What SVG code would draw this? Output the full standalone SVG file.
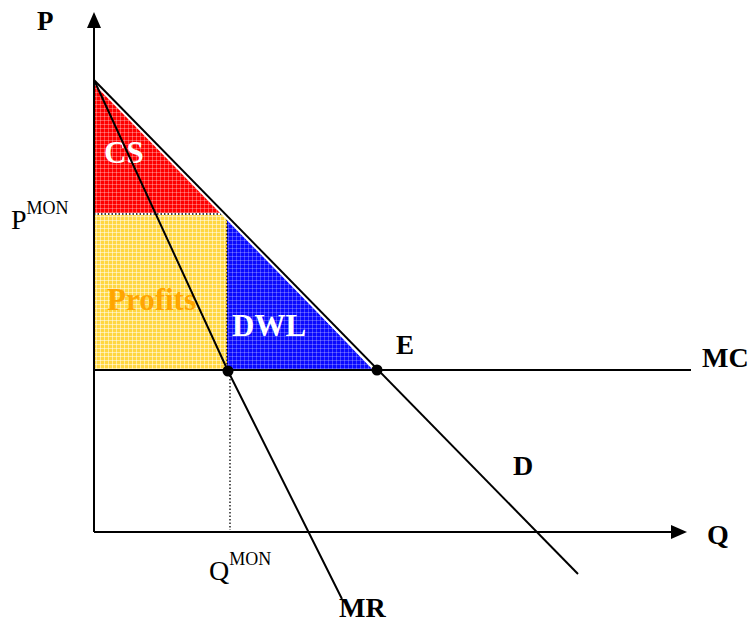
<svg xmlns="http://www.w3.org/2000/svg" width="756" height="624" viewBox="0 0 756 624">
<style>
.ln{stroke:#000;stroke-width:2;fill:none}
.dot{stroke:#000;stroke-width:1.3;stroke-dasharray:1.5 2;fill:none}
.lb{font-family:'Liberation Serif','Tinos','DejaVu Serif',serif;font-weight:bold;fill:#000}
.rg{font-family:'Liberation Serif','Tinos','DejaVu Serif',serif;fill:#000}
.ar{font-family:'Liberation Serif','Tinos','DejaVu Serif',serif;font-weight:bold;font-size:31px}
</style>
<defs>
<pattern id="pR" width="4" height="4" patternUnits="userSpaceOnUse"><rect width="4" height="4" fill="#f00"/><path d="M0 0.5H4M0.5 0V4" stroke="#fff" stroke-opacity="0.3" stroke-width="1"/></pattern>
<pattern id="pY" width="4" height="4" patternUnits="userSpaceOnUse"><rect width="4" height="4" fill="#ffd640"/><path d="M0 0.5H4M0.5 0V4" stroke="#fff" stroke-opacity="0.5" stroke-width="1"/></pattern>
<pattern id="pB" width="4" height="4" patternUnits="userSpaceOnUse"><rect width="4" height="4" fill="#0a0aff"/><path d="M0 0.5H4M0.5 0V4" stroke="#fff" stroke-opacity="0.25" stroke-width="1"/></pattern>
</defs>
<g id="areas">
<g id="cs"><polygon points="94,82 94,213 221,213" fill="url(#pR)"/><text class="ar" x="104" y="163" fill="#fff">CS</text></g>
<g id="profits"><rect x="94" y="215" width="133" height="155" fill="url(#pY)"/><text class="ar" x="107" y="310" fill="#ffa500">Profits</text></g>
<g id="dwl"><polygon points="227,218 227,370 373,370" fill="url(#pB)"/></g>
</g>
<g id="connectors">
<line class="dot" x1="94" y1="214" x2="226" y2="214"/>
<line class="dot" x1="227" y1="216" x2="227" y2="370"/>
<line class="dot" x1="230" y1="372" x2="230" y2="530"/>
<line x1="94" y1="80" x2="578" y2="574" stroke="#fff" stroke-width="6"/>
<line class="ln" x1="94" y1="80" x2="578" y2="574"/>
<polyline class="ln" points="95,82 228,371 342,599"/>
<line class="ln" x1="94" y1="370" x2="691" y2="370"/>
<line class="ln" x1="94" y1="532" x2="94" y2="14"/>
<path d="M94 12L87 28H101Z" fill="#000"/>
<line class="ln" x1="94" y1="532" x2="672" y2="532"/>
<path d="M687 532L671 525V539Z" fill="#000"/>
</g>
<g id="dwl-label"><text class="ar" x="232" y="336" fill="#fff">DWL</text></g>
<g id="points">
<circle cx="228" cy="371" r="5.5" fill="#000"/>
<circle cx="377" cy="370" r="5.5" fill="#000"/>
</g>
<g id="labels">
<text class="lb" x="37" y="30" font-size="27">P</text>
<text class="rg" x="11" y="229" font-size="28">P<tspan font-size="18" dy="-15">MON</tspan></text>
<text class="rg" x="209" y="580" font-size="28">Q<tspan font-size="18" dy="-15">MON</tspan></text>
<text class="lb" x="707" y="544" font-size="28">Q</text>
<text class="lb" x="702" y="367" font-size="28">MC</text>
<text class="lb" x="513" y="475" font-size="28">D</text>
<text class="lb" x="396" y="354" font-size="27">E</text>
<text class="lb" x="339" y="617" font-size="28">MR</text>
</g>
</svg>
